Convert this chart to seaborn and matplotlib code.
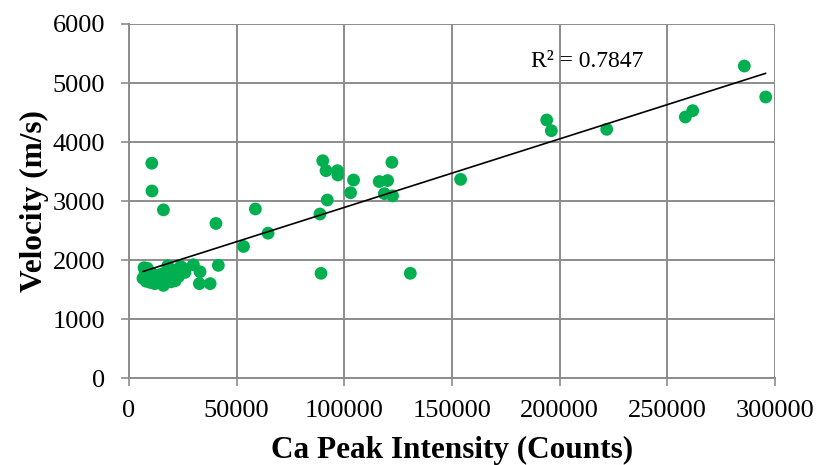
import numpy as np
import pandas as pd
import matplotlib
matplotlib.use("Agg")
import matplotlib.pyplot as plt
import seaborn as sns

# Ca peak intensity (counts) and measured velocity (m/s) per sample
ca_counts = [
    7000, 7500, 6500, 8000, 8500, 9500, 10000, 10500, 11500, 12000,
    12500, 13500, 14000, 15000, 16000, 16500, 17500, 18000, 19000, 19500,
    20500, 21500, 22000, 23000, 24000, 25000, 26000,
    29900, 33000, 32700, 37700, 41500,
    10600, 10700, 16000, 40400, 58700, 64600, 53200,
    89170, 130640, 88700, 92090, 90000, 91500, 96800, 97000, 104300, 102900,
    122100, 116200, 120100, 118600, 122400, 154000,
    193980, 196130, 221840, 258360, 261770, 285740, 295680,
]
velocity = [
    1870, 1790, 1690, 1640, 1860, 1700, 1620, 1780, 1660, 1600,
    1740, 1680, 1620, 1760, 1570, 1700, 1650, 1900, 1820, 1630,
    1760, 1650, 1830, 1720, 1890, 1860, 1790,
    1920, 1800, 1600, 1600, 1910,
    3640, 3170, 2850, 2620, 2865, 2455, 2230,
    1775, 1775, 2780, 3017, 3683, 3514, 3514, 3441, 3356, 3141,
    3656, 3330, 3347, 3125, 3088, 3367,
    4373, 4192, 4215, 4424, 4531, 5288, 4763,
]
r_squared_label = "R² = 0.7847"
x_ticks = [0, 50000, 100000, 150000, 200000, 250000, 300000]
y_ticks = [0, 1000, 2000, 3000, 4000, 5000, 6000]

df = pd.DataFrame({"Ca": ca_counts, "Velocity": velocity})

sns.set_theme(style="white")
plt.rcParams["font.family"] = ["Liberation Serif", "DejaVu Serif"]
plt.rcParams["text.color"] = "black"
plt.rcParams["axes.labelcolor"] = "black"

fig = plt.figure(figsize=(8.23, 4.65), dpi=100)
ax = fig.add_axes([0.1567, 0.187, 0.785, 0.7614])

grid_color = "#8c8c8c"
sns.scatterplot(data=df, x="Ca", y="Velocity", ax=ax, color="#00B050",
                s=85, edgecolor="none", linewidth=0, zorder=3, legend=False)

# linear trendline over the sampled range
slope, intercept = np.polyfit(df["Ca"], df["Velocity"], 1)
x_line = np.array([df["Ca"].min(), df["Ca"].max()])
ax.plot(x_line, slope * x_line + intercept, color="black", lw=1.2, zorder=4)

ax.text(186500, 5270, r_squared_label, fontsize=17, ha="left", va="baseline",
        color="black", zorder=5)

ax.set_xlim(0, 300000)
ax.set_ylim(0, 6000)
ax.set_xticks(x_ticks)
ax.set_yticks(y_ticks)
ax.set_xticklabels([str(t) for t in x_ticks])
ax.set_yticklabels([str(t) for t in y_ticks])
ax.grid(True, color=grid_color, lw=1.4)
ax.set_axisbelow(True)
for side in ["top", "right"]:
    ax.spines[side].set_visible(False)
for side in ["left", "bottom"]:
    ax.spines[side].set_color(grid_color)
    ax.spines[side].set_linewidth(1.4)

ax.tick_params(axis="both", which="major", direction="out", length=6,
               width=1.2, color=grid_color, labelsize=19, labelcolor="black",
               left=True, bottom=True)
ax.tick_params(axis="x", pad=10)
ax.tick_params(axis="y", pad=11)

ax.set_xlabel("Ca Peak Intensity (Counts)", fontsize=22.5, fontweight="bold",
              labelpad=10)
ax.set_ylabel("Velocity (m/s)", fontsize=22.5, fontweight="bold", labelpad=3)

fig.savefig("out.png", dpi=100)
